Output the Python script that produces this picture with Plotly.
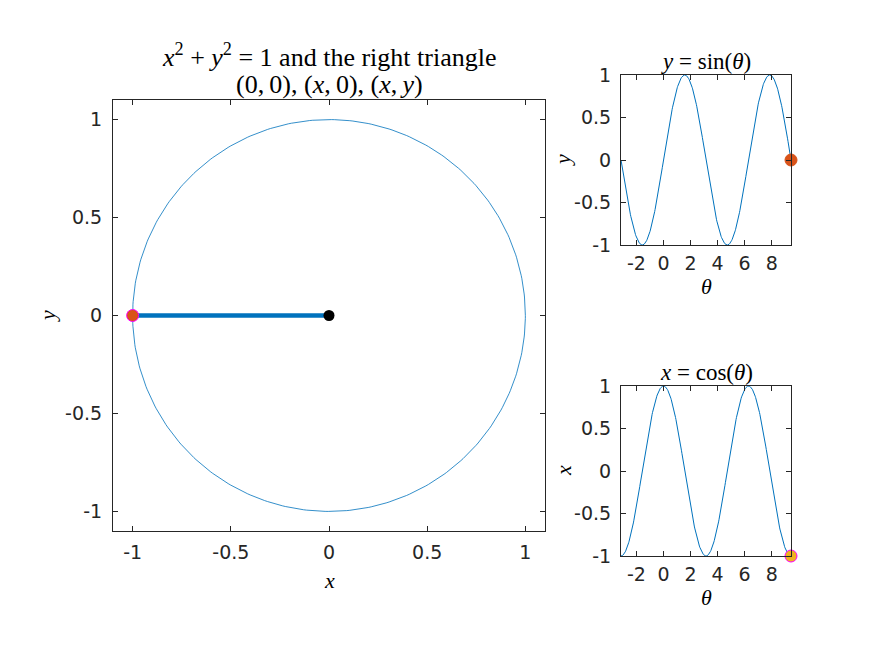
import numpy as np
import plotly.graph_objects as go

# ---- data ----
theta_start = -np.pi
theta_end = 3 * np.pi
theta_now = 3 * np.pi
n_samples = 400
main_ticks = [-1, -0.5, 0, 0.5, 1]
main_ticklabels = ["-1", "-0.5", "0", "0.5", "1"]
theta_ticks = [-2, 0, 2, 4, 6, 8]
theta_ticklabels = ["-2", "0", "2", "4", "6", "8"]
sub_yticks = [-1, -0.5, 0, 0.5, 1]
sub_yticklabels = ["-1", "-0.5", "0", "0.5", "1"]

theta = np.linspace(theta_start, theta_end, n_samples)
circ_t = np.linspace(0, 2 * np.pi, n_samples)
circ_x = np.cos(circ_t)
circ_y = np.sin(circ_t)
x_now = float(np.round(np.cos(theta_now), 12))
y_now = float(np.round(np.sin(theta_now), 12))

BLUE = "#0072BD"
ORANGE = "#D95319"
YELLOW = "#EDB120"
AXC = "#262626"

fig = go.Figure()

# main circle
fig.add_trace(go.Scatter(x=circ_x, y=circ_y, mode="lines",
                         line=dict(color=BLUE, width=0.8), xaxis="x", yaxis="y"))
fig.add_trace(go.Scatter(x=[0, x_now], y=[0, 0], mode="lines",
                         line=dict(color=BLUE, width=4.5), xaxis="x", yaxis="y"))
fig.add_trace(go.Scatter(x=[x_now, x_now], y=[0, y_now], mode="lines",
                         line=dict(color=BLUE, width=4.5), xaxis="x", yaxis="y"))
fig.add_trace(go.Scatter(x=[0], y=[0], mode="markers",
                         marker=dict(color="black", size=11), xaxis="x", yaxis="y"))
fig.add_trace(go.Scatter(x=[x_now], y=[y_now], mode="markers",
                         marker=dict(color=ORANGE, size=12, line=dict(color="magenta", width=1)),
                         xaxis="x", yaxis="y"))

# sin
fig.add_trace(go.Scatter(x=theta, y=np.sin(theta), mode="lines",
                         line=dict(color=BLUE, width=1), xaxis="x2", yaxis="y2"))
fig.add_trace(go.Scatter(x=[theta_now], y=[y_now], mode="markers",
                         marker=dict(color=ORANGE, size=12, line=dict(color=ORANGE, width=1)),
                         xaxis="x2", yaxis="y2", cliponaxis=False))
# cos
fig.add_trace(go.Scatter(x=theta, y=np.cos(theta), mode="lines",
                         line=dict(color=BLUE, width=1), xaxis="x3", yaxis="y3"))
fig.add_trace(go.Scatter(x=[theta_now], y=[x_now], mode="markers",
                         marker=dict(color=YELLOW, size=12, line=dict(color="magenta", width=1)),
                         xaxis="x3", yaxis="y3", cliponaxis=False))

W, H = 874, 655
OFF = 8  # page body margin
def px_x(a, b):
    return [(a - OFF) / W, (b - OFF) / W]
def px_y(top, bottom):
    return [1 - (bottom - OFF) / H, 1 - (top - OFF) / H]

axis_common = dict(showline=True, linecolor=AXC, linewidth=1, mirror="ticks",
                   ticks="inside", ticklen=5, tickcolor=AXC, showgrid=False,
                   zeroline=False, automargin=False,
                   tickfont=dict(family="DejaVu Sans", size=19, color=AXC))

fig.update_layout(
    width=W, height=H, margin=dict(l=0, r=0, t=0, b=0, autoexpand=False),
    paper_bgcolor="white", plot_bgcolor="white", showlegend=False,
    xaxis=dict(domain=px_x(113, 545), range=[-1.1, 1.1], tickvals=main_ticks,
               ticktext=main_ticklabels, anchor="y", ticklabelstandoff=4, **axis_common),
    yaxis=dict(domain=px_y(100, 531), range=[-1.1, 1.1], tickvals=main_ticks,
               ticktext=main_ticklabels, anchor="x", ticklabelstandoff=6, **axis_common),
    xaxis2=dict(domain=px_x(621, 791), range=[theta_start, theta_end], tickvals=theta_ticks,
                ticktext=theta_ticklabels, anchor="y2", ticklabelstandoff=1, **axis_common),
    yaxis2=dict(domain=px_y(75, 245), range=[-1, 1], tickvals=sub_yticks,
                ticktext=sub_yticklabels, anchor="x2", ticklabelstandoff=5, **axis_common),
    xaxis3=dict(domain=px_x(621, 791), range=[theta_start, theta_end], tickvals=theta_ticks,
                ticktext=theta_ticklabels, anchor="y3", ticklabelstandoff=1, **axis_common),
    yaxis3=dict(domain=px_y(386, 556), range=[-1, 1], tickvals=sub_yticks,
                ticktext=sub_yticklabels, anchor="x3", ticklabelstandoff=5, **axis_common),
)

SERIF = "Liberation Serif"
def ann(text, xp, yp, size=24, angle=0):
    fig.add_annotation(text=text, x=(xp - OFF) / W, y=1 - (yp - OFF) / H,
                       xref="paper", yref="paper",
                       showarrow=False, textangle=angle, xanchor="center", yanchor="middle",
                       font=dict(family=SERIF, size=size, color="black"))

TS = "\u2009"
ann("<i>x</i><sup>2</sup> + <i>y</i><sup>2</sup> = 1 and the right triangle", 329, 55, size=26)
ann("(0," + TS + "0), (<i>x</i>," + TS + "0), (<i>x</i>," + TS + "<i>y</i>)", 329, 84, size=26)
ann("<i>x</i>", 329, 580, size=22)
ann("<i>y</i>", 47, 316, size=22, angle=-90)
ann("<i>y</i> = sin(<i>θ</i>)", 706, 61, size=23)
ann("<i>θ</i>", 706, 286, size=22)
ann("<i>y</i>", 563, 160, size=22, angle=-90)
ann("<i>x</i> = cos(<i>θ</i>)", 706, 372, size=23)
ann("<i>θ</i>", 706, 597, size=22)
ann("<i>x</i>", 563, 471, size=22, angle=-90)

fig.write_html("out.html")
